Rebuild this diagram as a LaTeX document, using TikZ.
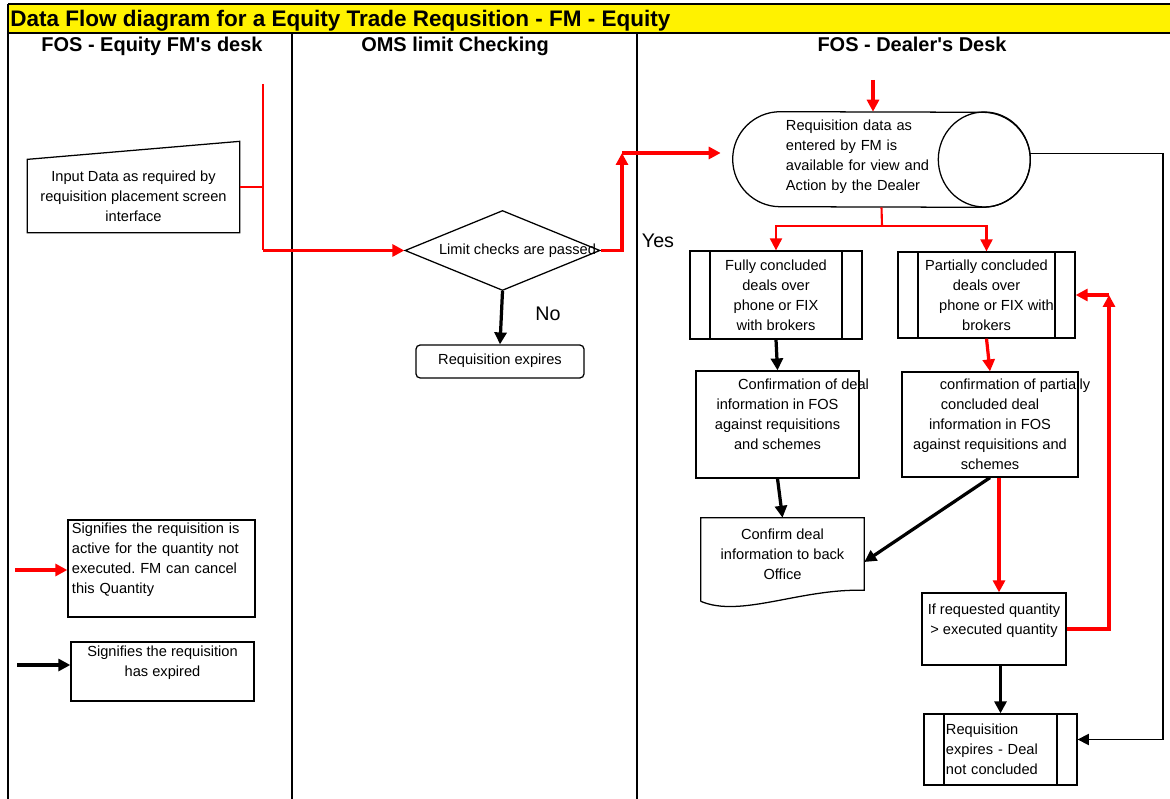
\documentclass[tikz,border=0pt]{standalone}
\usepackage{fontspec}
\setmainfont{Liberation Sans}
\usetikzlibrary{arrows.meta,shapes.geometric,positioning,calc}

\newcommand{\bodyfont}{\fontsize{10.4}{14.2}\selectfont\frenchspacing}

\begin{document}
\begin{tikzpicture}[x=0.025cm,y=-0.025cm,
    every node/.style={inner sep=0pt, font=\bodyfont},
    lane/.style={line width=1.6pt},
    stepbox/.style={draw, line width=0.9pt, align=center},
    subproc/.style={stepbox, path picture={
        \draw[line width=0.9pt] ([xshift=0.5cm]path picture bounding box.north west)
            -- ([xshift=0.5cm]path picture bounding box.south west);
        \draw[line width=0.9pt] ([xshift=-0.5cm]path picture bounding box.north east)
            -- ([xshift=-0.5cm]path picture bounding box.south east);}},
    redflow/.style={draw=red, line width=2.3pt, -{Triangle[length=8.5pt,width=8.5pt]}},
    blackflow/.style={draw=black, line width=2.3pt, -{Triangle[length=8.5pt,width=8.5pt]}},
    redthin/.style={draw=red, line width=1pt},
]
        \useasboundingbox (0,0) rectangle (1170,799);

        % title band and lanes
        \fill[yellow] (8,5) rectangle (1170,33);
        \draw[line width=1pt] (8,4) -- (1170,4);
        \draw[lane] (8,33) -- (1170,33);
        \draw[lane] (8,4) -- (8,799);
        \draw[lane] (292,33) -- (292,799);
        \draw[lane] (637,33) -- (637,799);

        \node[anchor=base west, font=\bfseries\fontsize{16}{18}\selectfont]
            (title) at (10,27) {Data Flow diagram for a Equity Trade Requsition - FM - Equity};
        \node[anchor=base, font=\bfseries\fontsize{14.2}{16}\selectfont]
            (fmdesk) at (152,52) {FOS - Equity FM\textquotesingle s desk};
        \node[anchor=base, font=\bfseries\fontsize{14.2}{16}\selectfont]
            (omsdesk) at (455,52) {OMS limit Checking};
        \node[anchor=base, font=\bfseries\fontsize{14.2}{16}\selectfont]
            (dealerdesk) at (912,52) {FOS - Dealer\textquotesingle s Desk};

        % input screen
        \node [stepbox, draw=none,
            minimum width=5.275cm,
            minimum height=1.8cm,
        ] (input) at (133.5,196) {Input Data as required by\\requisition placement screen\\interface};
        \draw[line width=0.9pt] (input.south west) -- (input.south east)
            -- ([yshift=0.45cm]input.north east) -- (input.north west) -- cycle;

        % limit check
        \node [draw, diamond, line width=0.9pt,
            minimum width=4.875cm,
            minimum height=2cm,
        ] (check) at (502.5,250.5) {\makebox[0pt]{\hspace*{0.75cm}Limit checks are passed}};

        \node [stepbox, rounded corners=3pt,
            minimum width=4.2cm,
            minimum height=0.825cm,
        ] (expired) at (500,361.5) {\raisebox{0.1cm}{Requisition expires}};

        \node[font=\fontsize{14}{16}\selectfont] (yes) at (658,241) {Yes};
        \node[font=\fontsize{14}{16}\selectfont] (no) at (548,314) {No};

        % dealer view (stored data)
        \node [
            minimum width=7.425cm,
            minimum height=2.375cm,
            text width=4.775cm, align=left,
        ] (dealerview) at (881.5,159.5) {Requisition data as\\entered by FM is\\available for view and\\Action by the Dealer\\[-0.3cm]\mbox{}};
        \draw[line width=0.9pt] ([xshift=1.1875cm]dealerview.north west) arc (90:270:1.1875cm)
            -- ([xshift=-1.1875cm]dealerview.south east) arc (-90:90:1.1875cm) -- cycle;
        \draw[line width=0.9pt] ([xshift=-1.15cm]dealerview.east) circle[x radius=1.15cm, y radius=1.1875cm];

        % deals
        \node [subproc,
            minimum width=4.3cm,
            minimum height=2.2cm,
        ] (fullydeal) at (776,295) {Fully concluded\\deals over\\phone or FIX\\with brokers};
        \node [subproc,
            minimum width=4.425cm,
            minimum height=2.15cm,
        ] (partdeal) at (986.5,295) {Partially concluded\\deals over\\\makebox[0pt]{\hspace*{0.5cm}phone or FIX with}\\brokers};

        % confirmations
        \node [stepbox,
            minimum width=4.075cm,
            minimum height=2.675cm,
        ] (fullconf) at (777.5,424.5) {\makebox[0pt]{\hspace*{1.3cm}Confirmation of deal}\\information in FOS\\against requisitions\\and schemes\\\mbox{}};
        \node [stepbox,
            minimum width=4.4cm,
            minimum height=2.625cm,
        ] (partconf) at (990,424.5) {\makebox[0pt]{\hspace*{1.25cm}confirmation of partially}\\concluded deal\\information in FOS\\against requisitions and\\schemes};

        % back office document
        \node [align=center,
            minimum width=4.075cm,
            minimum height=1.8cm,
        ] (backoffice) at (782.5,554) {Confirm deal\\information to back\\Office};
        \draw[line width=0.9pt] ([yshift=-0.275cm]backoffice.south west) -- (backoffice.north west)
            -- (backoffice.north east) -- (backoffice.south east)
            .. controls +(-1.6cm,0.05cm) and +(1cm,-0.425cm) .. ([yshift=-0.275cm]backoffice.south west);

        % quantity check
        \node [stepbox,
            minimum width=3.6cm,
            minimum height=1.8cm,
        ] (qtycheck) at (994,629) {If requested quantity\\> executed quantity\\\mbox{}};

        \node [subproc,
            minimum width=3.825cm,
            minimum height=1.775cm,
            text width=2.725cm, align=left,
        ] (dealexpire) at (1000.5,749.5) {Requisition\\expires - Deal\\not concluded};

        % legend
        \node [stepbox,
            minimum width=4.675cm,
            minimum height=2.425cm,
            text width=4.475cm, align=left,
        ] (activekey) at (161.5,568.5) {Signifies the requisition is\\active for the quantity not\\executed. FM can cancel\\this Quantity\\\mbox{}};
        \node [stepbox,
            minimum width=4.575cm,
            minimum height=1.475cm,
        ] (expiredkey) at (162.5,671.5) {Signifies the requisition\\has expired\\\mbox{}};

        \coordinate (redkey) at (15,570);
        \coordinate (blackkey) at (17,665);
        \draw[redflow] (redkey) -- (activekey.west |- redkey);
        \draw[blackflow] (blackkey) -- (expiredkey.west |- blackkey);

        % input to limit check
        \coordinate (intop) at (263,84);
        \coordinate (inbend) at (check.west -| intop);
        \draw[redthin] ([yshift=0.225cm]input.east) -- ([yshift=0.225cm]input.east -| intop);
        \draw[redthin] (intop) -- (inbend);
        \draw[redflow] (inbend) -- (check.west);

        % yes / no
        \coordinate (yesbend) at (622,153);
        \draw[redflow] (check.east) -- (check.east -| yesbend) -- (yesbend);
        \draw[redflow, shorten >=0.3cm] (yesbend) -- (dealerview.west |- yesbend);
        \draw[blackflow] (check.south) -- (expired.north);

        % into dealer view
        \coordinate (dealtop) at (873,80);
        \draw[redflow] (dealtop) -- (dealtop |- dealerview.north);

        % split to deals
        \coordinate (split) at (882,226);
        \draw[redthin, line width=1.5pt] (dealerview.south) -- (split);
        \draw[redflow, line width=1.5pt] (split) -| (fullydeal.north);
        \draw[redflow, line width=1.5pt] (split) -| (partdeal.north);

        % expiry rail
        \coordinate (rail) at (1163,0);
        \draw[line width=1pt, -{Triangle[length=8pt,width=8pt]}] ([yshift=0.15cm]dealerview.east)
            -- ([yshift=0.15cm]dealerview.east -| rail)
            -- ([yshift=0.25cm]dealexpire.east -| rail)
            -- ([yshift=0.25cm]dealexpire.east);

        % deals to confirmations
        \draw[blackflow] (fullydeal.south) -- (fullconf.north);
        \draw[redflow] (partdeal.south) -- (partconf.north);
        \draw[blackflow] (fullconf.south) -- (backoffice.north);
        \draw[blackflow] (partconf.south) -- ([yshift=-0.2cm]backoffice.east);
        \draw[redflow] ([xshift=0.125cm]qtycheck.north |- partconf.south) -- ([xshift=0.125cm]qtycheck.north);
        \draw[blackflow] (qtycheck.south -| dealexpire.north) -- (dealexpire.north);

        % loop back
        \coordinate (loopx) at (1109,0);
        \draw[redflow] (qtycheck.east) -- (qtycheck.east -| loopx) -- (partdeal.east -| loopx);
        \draw[redflow] (partdeal.east -| loopx) -- (partdeal.east);
\end{tikzpicture}
\end{document}
